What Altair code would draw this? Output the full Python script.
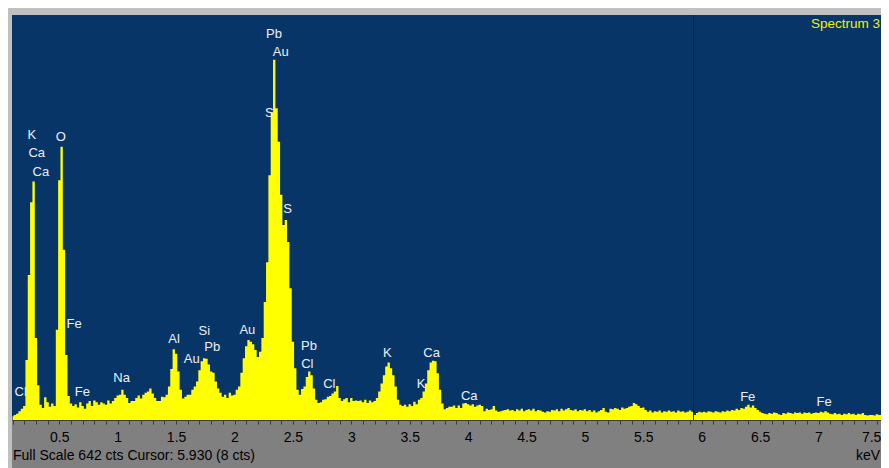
import altair as alt
import pandas as pd

# ---- spectrum counts, one value per 0.02 keV channel starting at 0.10 keV ----
counts = [
    6, 8, 10, 14, 18, 22, 95, 230, 345, 378,          # 0.10-0.28
    130, 55, 24, 19, 36, 28, 21, 26, 22, 143,         # 0.30-0.48
    380, 433, 270, 103, 38, 26, 22, 25, 20, 28,       # 0.50-0.68
    22, 18, 26, 30, 22, 31, 28, 24, 28, 26,           # 0.70-0.88
    24, 31, 26, 30, 35, 39, 40, 48, 40, 35,           # 0.90-1.08
    27, 30, 30, 35, 39, 34, 40, 43, 45, 50,           # 1.10-1.28
    42, 35, 30, 30, 37, 36, 40, 53, 81, 112,          # 1.30-1.48
    105, 77, 48, 34, 37, 40, 40, 48, 53, 61,          # 1.50-1.68
    79, 93, 98, 97, 88, 77, 75, 61, 50, 43,           # 1.70-1.88
    37, 40, 35, 43, 39, 40, 48, 53, 75, 98,           # 1.90-2.08
    117, 127, 124, 120, 111, 100, 108, 130, 187, 250, # 2.10-2.28
    388, 488, 571, 494, 441, 357, 309, 317, 282, 209, # 2.30-2.48
    124, 82, 48, 40, 49, 53, 68, 77, 71, 50,          # 2.50-2.68
    32, 27, 28, 32, 33, 37, 38, 42, 45, 54,           # 2.70-2.88
    35, 30, 33, 35, 28, 35, 30, 31, 30, 31,           # 2.90-3.08
    28, 32, 27, 31, 28, 30, 35, 45, 58, 71,           # 3.10-3.28
    85, 91, 82, 71, 53, 32, 24, 22, 24, 21,           # 3.30-3.48
    25, 22, 29, 25, 32, 35, 45, 58, 79, 91,           # 3.50-3.68
    94, 93, 74, 48, 26, 17, 19, 21, 21, 23,           # 3.70-3.88
    19, 23, 19, 26, 27, 25, 23, 25, 21, 23,           # 3.90-4.08
    24, 22, 14, 18, 16, 17, 22, 15, 13, 14,           # 4.10-4.28
    15, 16, 17, 15, 16, 14, 17, 15, 18, 14,           # 4.30-4.48
    16, 17, 15, 18, 14, 16, 15, 13, 12, 14,           # 4.50-4.68
    13, 16, 15, 17, 14, 18, 15, 17, 19, 16,           # 4.70-4.88
    15, 17, 14, 16, 15, 17, 14, 16, 13, 15,           # 4.90-5.08
    12, 14, 16, 19, 13, 12, 18, 17, 19, 18,           # 5.10-5.28
    16, 20, 18, 19, 21, 22, 27, 25, 22, 19,           # 5.30-5.48
    20, 16, 13, 15, 12, 14, 13, 15, 12, 14,           # 5.50-5.68
    13, 15, 13, 14, 12, 15, 13, 14, 12, 13,           # 5.70-5.88
    15, 13, 8, 11, 13, 12, 13, 12, 14, 13,            # 5.90-6.08
    12, 14, 13, 12, 14, 13, 15, 14, 16, 15,           # 6.10-6.28
    18, 16, 19, 18, 21, 24, 20, 23, 19, 16,           # 6.30-6.48
    13, 11, 10, 9, 11, 10, 12, 11, 9, 8,              # 6.50-6.68
    11, 10, 12, 11, 10, 12, 11, 12, 10, 12,           # 6.70-6.88
    11, 12, 10, 11, 12, 11, 13, 12, 14, 12,           # 6.90-7.08
    10, 9, 11, 9, 10, 8, 10, 9, 11, 9,                # 7.10-7.28
    10, 8, 10, 9, 11, 8, 7, 8, 8, 7,                  # 7.30-7.48
    9, 8, 8, 9, 8, 11,                                # 7.50-7.60
]
energy = [round(0.10 + 0.02 * i, 2) for i in range(len(counts))]

# ---- peak identification labels ----
label_text = ["Cl", "K", "Ca", "Ca", "O", "Fe", "Fe", "Na", "Al", "Au", "Si", "Pb",
              "Au", "Pb", "Au", "S", "S", "Pb", "Cl", "Cl", "K", "K", "Ca", "Ca",
              "Fe", "Fe"]
label_energy = [0.170, 0.264, 0.307, 0.342, 0.512, 0.626, 0.697, 1.034, 1.482, 1.634,
                1.741, 1.810, 2.110, 2.338, 2.396, 2.298, 2.455, 2.638, 2.623, 2.812,
                3.308, 3.597, 3.688, 4.010, 6.394, 7.048]
label_counts = [44, 452, 423, 393, 448, 152, 44, 66, 128, 96,
                141, 115, 143, 612, 583, 486, 335, 117, 88, 57,
                106, 57, 106, 38, 36, 29]

# ---- axis / annotation values ----
x_domain = [0.095, 7.535]
full_scale = 642
cursor_kev = 5.930
cursor_cts = 8
tick_values = [round(0.1 * i, 1) for i in range(1, 76)]
spectrum_name = "Spectrum 3"

spec_df = pd.DataFrame({"energy": energy, "counts": counts})
lab_df = pd.DataFrame({"energy": label_energy, "counts": label_counts, "label": label_text})
cur_df = pd.DataFrame({"energy": [cursor_kev]})
one = pd.DataFrame({"a": [0]})

W, H = 869, 405
STRIP = 48
FONT = "Liberation Sans"

xs = alt.Scale(domain=x_domain, nice=False, zero=False)
ys = alt.Scale(domain=[0, full_scale], nice=False, zero=True)

x_axis = alt.Axis(
    values=tick_values, format=".1~f",
    labelExpr="round(datum.value*10) % 5 == 0 ? datum.label : ''",
    domain=True, domainColor="#3a3a3a", domainWidth=1,
    ticks=True, tickColor="#3a3a3a", tickSize=4, tickWidth=1,
    labelColor="#000000", labelFont=FONT, labelFontSize=14, labelPadding=6,
    labelOverlap=False, labelFlush=5, labelFlushOffset=4,
    grid=False, title=None, zindex=1,
)

strip = alt.Chart(one).mark_rect(color="#808080", clip=False).encode(
    x=alt.value(0), x2=alt.value(W), y=alt.value(H), y2=alt.value(H + STRIP)
)

area = alt.Chart(spec_df).mark_area(
    interpolate="step", color="#ffff00", clip=True, opacity=1
).encode(
    x=alt.X("energy:Q", scale=xs, axis=x_axis),
    y=alt.Y("counts:Q", scale=ys, axis=None),
)

cursor = alt.Chart(cur_df).mark_rule(color="#1c1c24", strokeWidth=1).encode(
    x=alt.X("energy:Q", scale=xs, axis=x_axis)
)

labels = alt.Chart(lab_df).mark_text(
    font=FONT, fontSize=13, color="#eeeef2", align="center", baseline="middle"
).encode(
    x=alt.X("energy:Q", scale=xs, axis=x_axis),
    y=alt.Y("counts:Q", scale=ys, axis=None),
    text="label:N",
)

spec_title = alt.Chart(one).mark_text(
    font=FONT, fontSize=13.5, color="#f2f200", align="right", baseline="middle"
).encode(x=alt.value(W - 1), y=alt.value(9), text=alt.value(spectrum_name))

footer = alt.Chart(one).mark_text(
    font=FONT, fontSize=14, color="#000000", align="left", baseline="middle", clip=False
).encode(
    x=alt.value(1), y=alt.value(H + 36),
    text=alt.value(f"Full Scale {full_scale} cts Cursor: {cursor_kev:.3f}  ({cursor_cts} cts)"),
)

kev = alt.Chart(one).mark_text(
    font=FONT, fontSize=14, color="#000000", align="right", baseline="middle", clip=False
).encode(x=alt.value(W - 1), y=alt.value(H + 36), text=alt.value("keV"))

chart = alt.layer(strip, area, cursor, labels, spec_title, footer, kev).properties(
    width=W, height=H,
    padding={"left": 4, "top": 7, "right": 0, "bottom": STRIP},
    autosize=alt.AutoSizeParams(type="none"),
    background="#c0c0c0",
).configure_view(fill="#083567", stroke=None)

chart.save("out.html", embed_options={"renderer": "svg", "actions": False})
